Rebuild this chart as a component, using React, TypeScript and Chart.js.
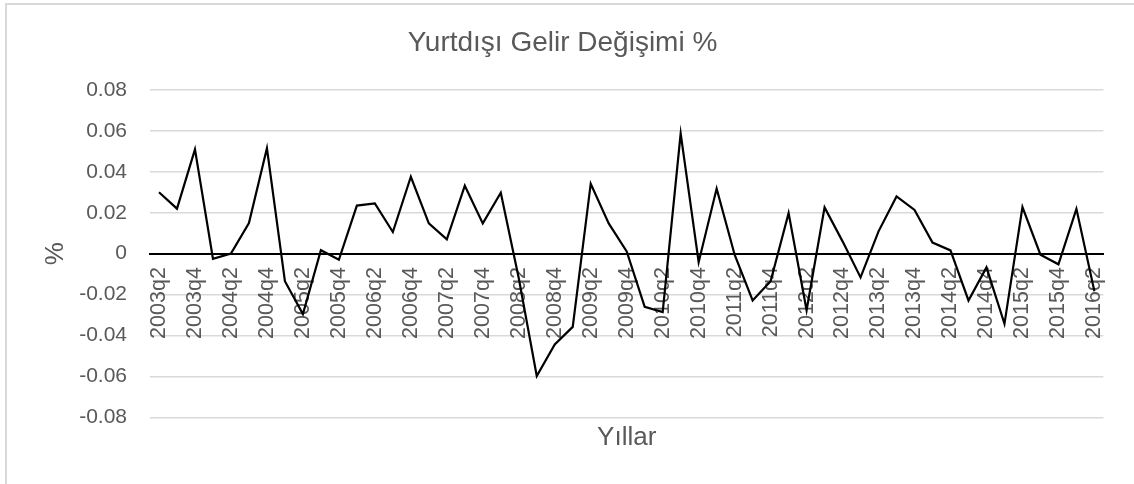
import React, { useEffect, useRef } from 'react';
import { Chart, registerables } from 'chart.js';

Chart.register(...registerables);

const titleText = 'Yurtdışı Gelir Değişimi %';
const xAxisTitle = 'Yıllar';
const yAxisTitle = '%';

const categories = [
  '2003q2', '2003q3', '2003q4',
  '2004q1', '2004q2', '2004q3', '2004q4',
  '2005q1', '2005q2', '2005q3', '2005q4',
  '2006q1', '2006q2', '2006q3', '2006q4',
  '2007q1', '2007q2', '2007q3', '2007q4',
  '2008q1', '2008q2', '2008q3', '2008q4',
  '2009q1', '2009q2', '2009q3', '2009q4',
  '2010q1', '2010q2', '2010q3', '2010q4',
  '2011q1', '2011q2', '2011q3', '2011q4',
  '2012q1', '2012q2', '2012q3', '2012q4',
  '2013q1', '2013q2', '2013q3', '2013q4',
  '2014q1', '2014q2', '2014q3', '2014q4',
  '2015q1', '2015q2', '2015q3', '2015q4',
  '2016q1', '2016q2',
];

const values = [
  0.030, 0.022, 0.051,
  -0.0025, 0.0, 0.015, 0.0515,
  -0.0135, -0.0295, 0.0017, -0.003,
  0.0235, 0.0246, 0.0106, 0.0376,
  0.0148, 0.007, 0.0332, 0.0148,
  0.0298, -0.012, -0.0598, -0.0444,
  -0.0358, 0.0342, 0.0148, 0.0011,
  -0.026, -0.0286, 0.0587, -0.0042,
  0.0318, -0.0005, -0.0229, -0.0135,
  0.0198, -0.0277, 0.0226, 0.006,
  -0.0116, 0.0109, 0.028, 0.0214,
  0.0054, 0.0016, -0.0229, -0.0067,
  -0.0343, 0.0228, -0.0005, -0.0052,
  0.0219, -0.0184,
];

const yMin = -0.08;
const yMax = 0.08;
const yStep = 0.02;

const FONT = "'Liberation Sans', Arial, sans-serif";
const TEXT = '#595959';

export default function App() {
  const ref = useRef<HTMLCanvasElement>(null);

  useEffect(() => {
    document.body.style.margin = '0';
    const canvas = ref.current;
    if (!canvas) return;
    const chart = new Chart(canvas, {
      type: 'line',
      data: {
        labels: categories,
        datasets: [
          {
            data: values,
            borderColor: '#000000',
            borderWidth: 2.2,
            pointRadius: 0,
            pointHoverRadius: 0,
            tension: 0,
            fill: false,
            xAxisID: 'x',
            yAxisID: 'y',
          },
        ],
      },
      options: {
        animation: false,
        responsive: false,
        maintainAspectRatio: false,
        events: [],
        layout: { padding: { left: 0, right: 9, top: 0, bottom: 0 } },
        plugins: {
          legend: { display: false },
          tooltip: { enabled: false },
          title: {
            display: true,
            text: titleText,
            color: TEXT,
            font: { family: FONT, size: 28, weight: 'normal' },
            padding: { top: 26.5, bottom: 29.9 },
          },
        },
        scales: {
          x: {
            type: 'category',
            position: { y: 0 },
            offset: true,
            grid: { display: false, drawTicks: false, tickLength: 0 },
            border: { display: true, color: '#000000', width: 2 },
            ticks: {
              autoSkip: false,
              maxRotation: 90,
              minRotation: 90,
              padding: 13.5,
              color: TEXT,
              font: { family: FONT, size: 21.5 },
              callback: (_v: any, i: number) => (i % 2 === 0 ? categories[i] : ''),
            },
            afterFit: (s: any) => {
              s.height = 0;
            },
          },
          xt: {
            type: 'category',
            position: 'bottom',
            offset: true,
            grid: { display: false, drawTicks: false },
            border: { display: false },
            ticks: { display: false },
            title: {
              display: true,
              text: xAxisTitle,
              color: TEXT,
              font: { family: FONT, size: 26 },
              padding: { top: 4.6, bottom: 30.9 },
            },
          },
          y: {
            type: 'linear',
            position: 'left',
            min: yMin,
            max: yMax,
            ticks: {
              stepSize: yStep,
              padding: 23,
              color: TEXT,
              font: { family: FONT, size: 21 },
              callback: (v: any) => {
                const n = Number(v);
                return Math.abs(n) < 1e-9 ? '0' : n.toFixed(2);
              },
            },
            grid: {
              drawTicks: false,
              color: (c: any) => (c.tick && Math.abs(c.tick.value) < 1e-9 ? '#000000' : '#d9d9d9'),
              lineWidth: (c: any) => (c.tick && Math.abs(c.tick.value) < 1e-9 ? 2 : 1.6),
            },
            border: { display: false },
            title: {
              display: true,
              text: yAxisTitle,
              color: TEXT,
              font: { family: FONT, size: 26 },
              padding: { top: 40.4, bottom: 0 },
            },
            afterFit: (s: any) => {
              s.width = 150;
            },
          },
          yr: {
            type: 'linear',
            position: 'right',
            grid: { display: false, drawTicks: false },
            border: { display: false },
            ticks: { display: false },
            afterFit: (s: any) => {
              s.width = 18;
            },
          },
        },
      } as any,
    });
    return () => chart.destroy();
  }, []);

  return (
    <div style={{ position: 'relative', width: 1134, height: 484, overflow: 'hidden', background: '#ffffff' }}>
      <div
        style={{
          position: 'absolute',
          left: 5,
          top: 3,
          width: 1300,
          height: 700,
          borderLeft: '2px solid #d9d9d9',
          borderTop: '2px solid #d9d9d9',
        }}
      />
      <canvas
        ref={ref}
        width={1134}
        height={484}
        style={{ position: 'absolute', left: 0, top: 0, width: 1134, height: 484 }}
      />
    </div>
  );
}
